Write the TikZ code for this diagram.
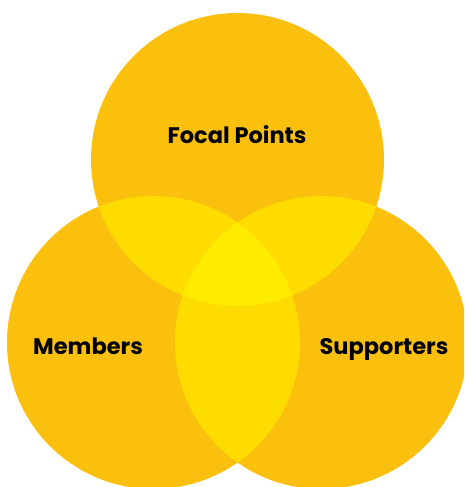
\documentclass[tikz,border=0pt]{standalone}
\usepackage{fontspec}
\setmainfont{Poppins}
\definecolor{base}{HTML}{FBC00E}
\definecolor{pair}{HTML}{FFDC00}
\definecolor{triple}{HTML}{FFEB00}
\begin{document}
\begin{tikzpicture}[x=1pt,y=-1pt,
  lbl/.style={font=\fontsize{22.5}{26}\selectfont\bfseries, text=black, anchor=base, inner sep=0pt}]
\useasboundingbox (0,0) rectangle (464,487);
\begin{scope}
\clip (0,0) rectangle (464,487);
\def\R{146.5}
\coordinate (ct) at (237.5,159.5);
\coordinate (cl) at (153.5,342.5);
\coordinate (cr) at (321.5,342.5);
\fill[base] (ct) circle (\R) (cl) circle (\R) (cr) circle (\R);
\begin{scope}\clip (ct) circle (\R); \fill[pair] (cl) circle (\R); \fill[pair] (cr) circle (\R);\end{scope}
\begin{scope}\clip (cl) circle (\R); \fill[pair] (cr) circle (\R);\end{scope}
\begin{scope}\clip (ct) circle (\R); \clip (cl) circle (\R); \fill[triple] (cr) circle (\R);\end{scope}
\end{scope}
\node[lbl] (fp) at (237,143) {Focal Points};
\node[lbl] (mem) at (88,354) {Members};
\node[lbl] (sup) at (384,354) {Supporters};
\end{tikzpicture}
\end{document}
